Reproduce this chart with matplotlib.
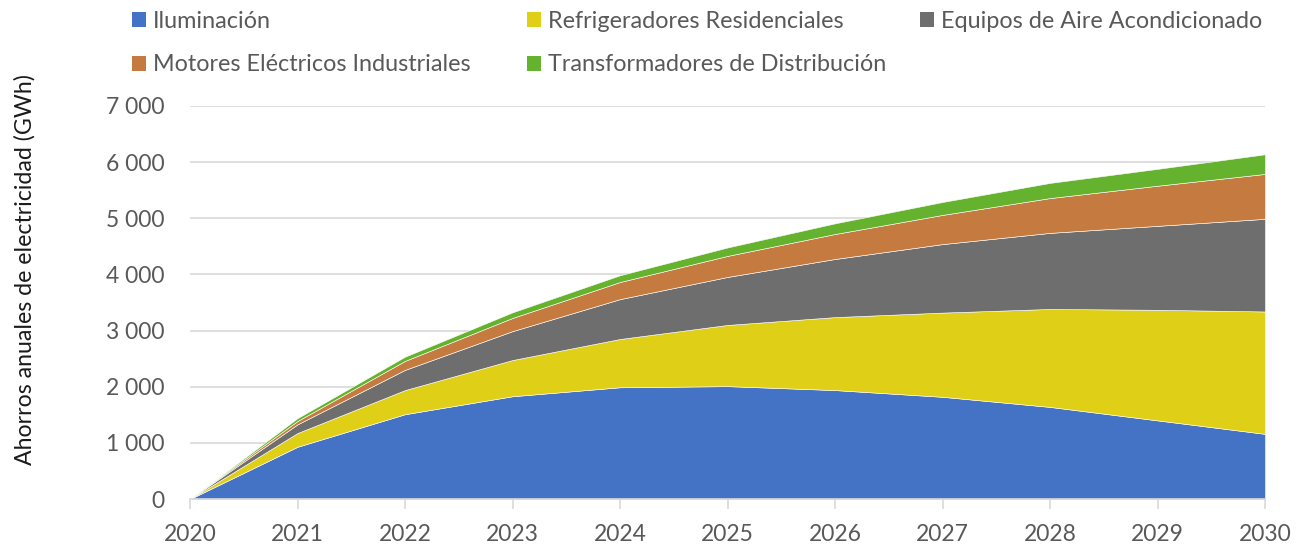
import matplotlib.pyplot as plt
from matplotlib.ticker import FuncFormatter
from matplotlib.patches import Patch

plt.rcParams['font.family'] = ['Lato', 'DejaVu Sans']

years = [2020, 2021, 2022, 2023, 2024, 2025, 2026, 2027, 2028, 2029, 2030]
iluminacion = [0, 930, 1510, 1830, 1990, 2010, 1940, 1820, 1640, 1400, 1160]
refrigeradores = [0, 245, 430, 645, 860, 1090, 1300, 1500, 1745, 1970, 2180]
aire = [0, 155, 360, 515, 710, 855, 1035, 1220, 1355, 1495, 1650]
motores = [0, 60, 160, 235, 305, 375, 445, 520, 620, 715, 800]
transformadores = [0, 50, 75, 100, 120, 150, 190, 230, 270, 300, 350]

labels = ['Iluminación', 'Refrigeradores Residenciales', 'Equipos de Aire Acondicionado',
          'Motores Eléctricos Industriales', 'Transformadores de Distribución']
colors = ['#4472C4', '#DFCF17', '#6E6E6E', '#C57B3F', '#64B22E']

txt = '#595959'

fig = plt.figure(figsize=(13.08, 5.48), dpi=100)
ax = fig.add_axes([190/1308, 1-499/548, 1075/1308, 393/548])

ax.stackplot(years, iluminacion, refrigeradores, aire, motores, transformadores,
             colors=colors, edgecolor='white', linewidth=0.4, zorder=2)

ax.set_xlim(2020, 2030)
ax.set_ylim(0, 7000)
ax.set_xticks(years)
ax.set_yticks(range(0, 7001, 1000))
ax.yaxis.set_major_formatter(FuncFormatter(lambda v, p: f'{int(v):,}'.replace(',', ' ')))
ax.grid(axis='y', color='#D9D9D9', linewidth=1.2, zorder=0)
ax.set_axisbelow(True)
for s in ['top', 'right', 'left']:
    ax.spines[s].set_visible(False)
ax.spines['bottom'].set_color('#D9D9D9')
ax.spines['bottom'].set_linewidth(1.2)
ax.tick_params(axis='y', length=0, labelsize=16.5, labelcolor=txt, pad=18)
ax.tick_params(axis='x', length=7, color='#D9D9D9', width=1.2, labelsize=16.5, labelcolor=txt, pad=11)

fig.text(25/1308, 1-270/548, 'Ahorros anuales de electricidad (GWh)', rotation=90,
         ha='center', va='center', fontsize=16.7, color='#1a1a1a')

# legend entries placed like Excel's grid
pos = [(132, 21), (527, 21), (920, 21), (132, 65), (527, 65)]
for lab, col, (px, py) in zip(labels, colors, pos):
    fig.legend(handles=[Patch(facecolor=col, label=lab)], loc='center left',
               bbox_to_anchor=(px/1308, 1-py/548), frameon=False, fontsize=16.8,
               handlelength=0.6, handleheight=0.6, handletextpad=0.3,
               borderaxespad=0, borderpad=0, labelcolor=txt)

fig.savefig('out.png', dpi=100)
